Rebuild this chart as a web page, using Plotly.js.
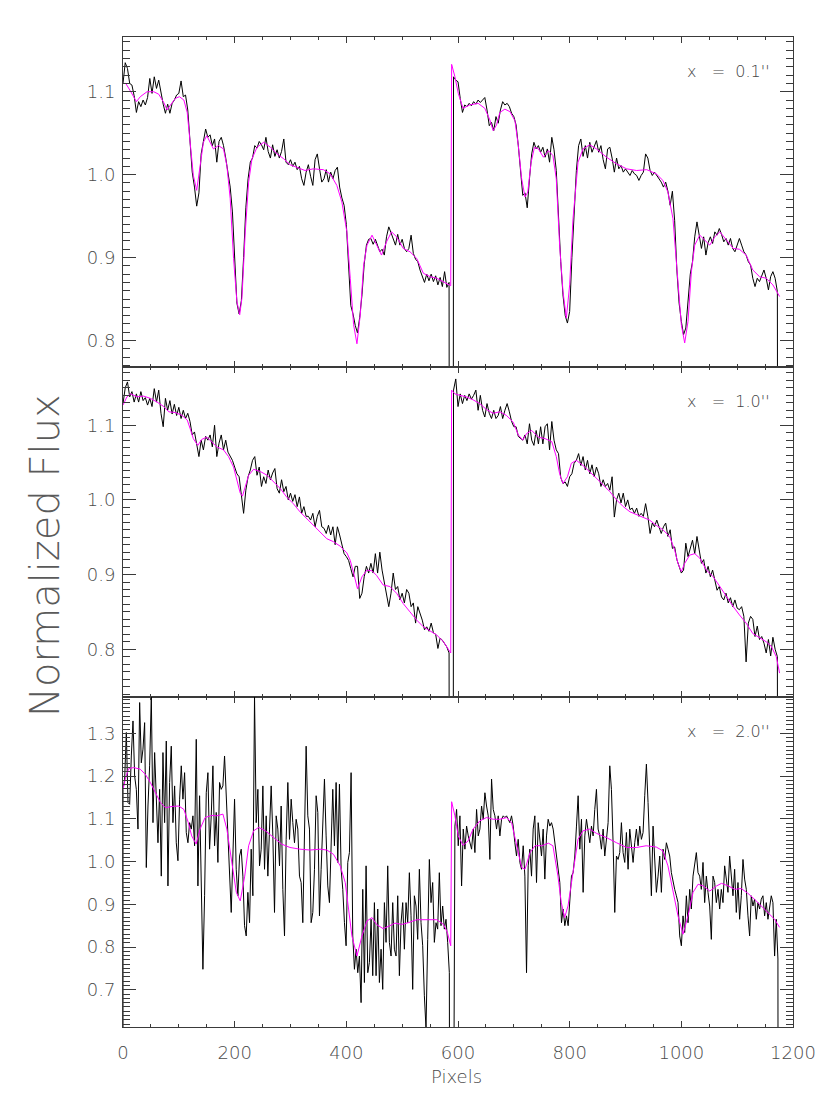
<!DOCTYPE html>
<html><head><meta charset="utf-8">
<script src="https://cdn.plot.ly/plotly-3.0.1.min.js"></script>
<style>html,body{margin:0;padding:0;background:#fff}</style>
</head><body><div id="chart" style="width:830px;height:1106px"></div>
<script>
// ---------- x = 0.1'' panel ----------
const p1BlackA = [1.110,1.135,1.128,1.110,1.108,1.095,1.075,1.088,1.082,1.090,
1.084,1.093,1.116,1.098,1.118,1.104,1.114,1.098,1.085,1.074,
1.085,1.074,1.086,1.090,1.096,1.098,1.113,1.094,1.096,1.078,
1.045,1.003,0.985,0.962,0.978,1.025,1.040,1.055,1.045,1.048,
1.035,1.043,1.015,1.040,1.045,1.035,1.020,1.005,0.985,0.955,
0.890,0.845,0.832,0.848,0.900,0.960,0.995,1.015,1.020,1.035,
1.032,1.040,1.036,1.030,1.045,1.028,1.020,1.036,1.022,1.030,
1.020,1.028,1.043,1.015,1.012,1.018,1.010,1.015,1.006,1.010,
0.995,0.987,1.003,1.012,0.998,0.987,1.018,1.025,1.007,0.991,
0.995,1.006,0.991,1.003,0.995,1.005,1.009,0.985,0.972,0.963,
0.940,0.890,0.842,0.832,0.818,0.809,0.828,0.855,0.892,0.915,
0.922,0.923,0.916,0.922,0.915,0.907,0.910,0.903,0.925,0.937,
0.930,0.923,0.915,0.928,0.915,0.922,0.911,0.907,0.911,0.927,
0.905,0.898,0.895,0.885,0.877,0.870,0.880,0.872,0.880,0.871,
0.878,0.867,0.876,0.865,0.883,0.864,0.870];
const p1BlackB = [1.118,1.114,1.112,1.092,1.075,1.084,1.082,1.086,1.083,1.088,
1.085,1.090,1.087,1.090,1.093,1.078,1.059,1.063,1.053,1.070,
1.062,1.078,1.088,1.084,1.086,1.082,1.074,1.070,1.060,1.035,
1.000,0.975,0.978,0.960,0.995,1.025,1.039,1.031,1.035,1.027,
1.033,1.021,1.031,1.015,1.045,1.030,1.005,0.945,0.895,0.855,
0.830,0.821,0.835,0.900,0.960,1.005,1.035,1.043,1.022,1.035,
1.020,1.039,1.027,1.035,1.041,1.027,1.035,1.018,1.007,1.031,
1.033,1.020,1.003,1.020,1.007,1.011,1.003,1.007,1.003,0.999,
1.005,1.001,0.999,0.993,0.999,1.003,1.025,1.020,1.005,0.999,
1.003,0.999,0.995,0.991,0.985,0.991,0.980,0.963,0.980,0.945,
0.885,0.845,0.823,0.807,0.815,0.845,0.880,0.895,0.925,0.943,
0.925,0.911,0.925,0.903,0.918,0.925,0.917,0.931,0.927,0.935,
0.928,0.919,0.923,0.915,0.923,0.911,0.907,0.915,0.923,0.915,
0.907,0.903,0.895,0.891,0.875,0.865,0.875,0.871,0.879,0.885,
0.875,0.861,0.877,0.883,0.875,0.859];
const p1FitX = [0,5,14,24,31,43,55,64,73,79,85,94,101,109,115,120,126,132,138,144,
150,156,162,171,180,186,192,198,204,209,213,219,225,231,240,252,264,276,288,299,
311,326,341,359,371,383,392,401,407,413,419,425,431,437,446,454,463,472,481,490,
502,514,526,538,550,562,574,587,
588.6,594.5,600.5,609,621,636,648,657,663,669,675,684,693,702,708,714,720,725,731,737,
744,753,762,770,776,782,788,794,800,806,815,824,836,848,866,884,902,920,938,955,
967,976,985,994,1000,1006,1012,1018,1024,1033,1042,1051,1060,1069,1081,1093,1104,1116,1128,1140,
1152,1164,1176];
const p1FitY = [1.110,1.110,1.100,1.088,1.094,1.100,1.100,1.097,1.087,1.078,1.084,1.092,1.094,1.090,1.075,1.043,0.999,0.981,1.011,1.039,
1.047,1.039,1.031,1.035,1.031,1.011,0.971,0.899,0.847,0.831,0.851,0.931,0.991,1.019,1.033,1.039,1.033,1.025,1.019,1.012,
1.009,1.005,1.007,1.006,1.001,0.987,0.967,0.931,0.875,0.819,0.796,0.831,0.891,0.915,0.927,0.915,0.903,0.919,0.931,0.925,
0.911,0.907,0.899,0.881,0.877,0.875,0.871,0.866,
1.133,1.118,1.098,1.080,1.084,1.086,1.080,1.066,1.053,1.060,1.075,1.079,1.076,1.065,1.035,0.995,0.973,0.979,1.015,1.033,
1.031,1.021,1.029,1.023,0.995,0.915,0.859,0.827,0.867,0.947,1.015,1.031,1.036,1.031,1.021,1.013,1.007,1.005,1.006,1.001,
0.993,0.979,0.947,0.867,0.819,0.797,0.823,0.883,0.915,0.927,0.921,0.915,0.925,0.931,0.921,0.911,0.910,0.903,0.885,0.877,
0.875,0.867,0.853];

// ---------- x = 1.0'' panel ----------
const p2BlackA = [1.129,1.150,1.158,1.138,1.145,1.131,1.142,1.131,1.145,1.133,
1.137,1.127,1.136,1.125,1.149,1.131,1.147,1.116,1.098,1.136,
1.120,1.133,1.115,1.128,1.113,1.124,1.109,1.120,1.109,1.116,
1.105,1.087,1.091,1.073,1.058,1.080,1.067,1.085,1.080,1.087,
1.071,1.100,1.058,1.076,1.087,1.067,1.080,1.064,1.058,1.053,
1.044,1.035,1.031,1.009,0.982,1.013,1.031,1.040,1.053,1.058,
1.033,1.044,1.018,1.031,1.022,1.040,1.027,1.036,1.042,1.015,
1.009,1.027,1.011,1.018,1.000,1.009,0.998,1.007,0.991,1.004,
0.982,0.991,0.978,0.978,0.973,0.982,0.964,0.978,0.986,0.964,
0.962,0.955,0.966,0.953,0.964,0.940,0.964,0.953,0.940,0.928,
0.924,0.919,0.908,0.897,0.911,0.911,0.868,0.875,0.897,0.911,
0.902,0.915,0.902,0.928,0.902,0.930,0.906,0.888,0.875,0.857,
0.875,0.902,0.880,0.884,0.866,0.875,0.862,0.880,0.875,0.857,
0.862,0.835,0.857,0.848,0.839,0.826,0.830,0.824,0.835,0.822,
0.820,0.801,0.815,0.812,0.807,0.803,0.795];
const p2BlackB = [1.147,1.162,1.125,1.142,1.129,1.140,1.133,1.142,1.135,1.140,
1.147,1.120,1.140,1.120,1.111,1.129,1.116,1.109,1.120,1.109,
1.113,1.125,1.109,1.120,1.129,1.118,1.105,1.098,1.098,1.085,
1.082,1.080,1.087,1.075,1.102,1.080,1.073,1.093,1.075,1.098,
1.075,1.098,1.102,1.067,1.105,1.080,1.067,1.062,1.030,1.022,
1.024,1.018,1.031,1.035,1.049,1.053,1.062,1.046,1.058,1.040,
1.053,1.035,1.047,1.031,1.044,1.035,1.018,1.027,1.018,1.022,
1.013,1.031,0.977,1.000,1.009,0.996,1.009,0.991,1.000,0.987,
0.989,0.982,0.989,0.978,0.982,0.978,0.995,0.978,0.955,0.969,
0.964,0.973,0.964,0.955,0.964,0.969,0.951,0.960,0.935,0.937,
0.920,0.911,0.902,0.906,0.942,0.924,0.937,0.946,0.928,0.951,
0.933,0.915,0.920,0.902,0.911,0.897,0.906,0.893,0.879,0.884,
0.870,0.866,0.875,0.862,0.869,0.857,0.866,0.855,0.853,0.857,
0.844,0.783,0.835,0.844,0.840,0.817,0.831,0.813,0.817,0.808,
0.795,0.813,0.791,0.816,0.800,0.790];
const p2FitX = [0,7,14,25,37,49,61,73,82,94,106,115,120,126,134,141,150,159,168,180,
189,198,204,210,214,219,225,234,246,258,270,282,293,305,317,329,341,353,365,377,
389,401,407,413,420,428,437,446,454,466,478,490,502,514,526,538,550,562,574,587,
588.6,594.5,603.5,615,627,639,651,663,675,687,699,708,716,723,732,744,756,768,776,782,
788,796,803,812,824,836,848,860,872,884,896,908,920,932,943,955,967,979,988,994,
1000,1006,1015,1024,1033,1045,1057,1069,1081,1093,1104,1116,1128,1140,1152,1161,1170,1176];
const p2FitY = [1.127,1.138,1.142,1.138,1.139,1.136,1.131,1.125,1.118,1.117,1.113,1.107,1.096,1.082,1.073,1.081,1.084,1.078,1.071,1.067,
1.058,1.044,1.026,1.009,1.005,1.018,1.033,1.041,1.038,1.033,1.024,1.015,1.004,0.995,0.984,0.975,0.966,0.957,0.948,0.944,
0.938,0.929,0.919,0.902,0.881,0.897,0.906,0.905,0.899,0.886,0.884,0.875,0.861,0.850,0.839,0.830,0.824,0.819,0.810,0.795,
1.147,1.142,1.140,1.138,1.134,1.129,1.121,1.116,1.118,1.113,1.104,1.087,1.080,1.089,1.093,1.084,1.082,1.078,1.058,1.035,
1.022,1.031,1.049,1.053,1.046,1.038,1.029,1.020,1.011,1.000,0.991,0.984,0.980,0.977,0.973,0.966,0.960,0.951,0.933,0.915,
0.904,0.915,0.926,0.928,0.922,0.906,0.897,0.884,0.870,0.857,0.846,0.835,0.821,0.815,0.810,0.804,0.790,0.768];

// ---------- x = 2.0'' panel ----------
const p3BlackA = [1.169,1.193,1.302,1.138,1.134,1.247,1.329,1.200,1.169,1.076,
1.372,1.231,1.263,1.325,0.986,1.130,1.224,1.387,1.091,1.255,
1.130,1.044,1.169,0.966,1.255,1.091,1.282,0.943,1.185,1.270,
1.091,1.177,1.044,1.002,1.146,1.224,1.146,1.208,1.068,1.044,
1.091,1.076,1.107,1.037,1.286,0.943,1.154,0.982,0.748,0.920,
1.161,1.208,1.029,1.107,1.224,1.037,1.115,0.998,1.185,1.169,
1.177,1.247,1.146,1.060,0.966,0.881,1.013,1.146,0.982,0.920,
1.013,1.029,0.966,0.850,0.826,0.928,0.857,1.029,0.920,1.387,
1.091,1.169,0.990,1.029,1.177,0.982,1.107,0.966,1.076,1.177,
1.060,0.881,1.107,1.076,0.990,1.130,0.935,0.826,1.052,1.185,
1.052,1.146,1.091,1.044,1.099,1.076,0.966,0.951,0.857,1.091,
1.270,1.107,1.076,0.857,0.881,0.982,1.154,1.115,0.873,0.982,
1.076,1.193,1.060,0.943,0.904,1.013,1.169,1.037,1.185,0.998,
1.181,0.982,0.935,0.857,0.803,0.998,1.021,1.208,0.826,0.748,
0.795,0.740,0.779,0.670,0.935,0.717,0.990,0.740,0.764,0.865,
0.733,0.904,0.733,0.889,0.717,0.795,0.701,0.904,0.811,0.990,
0.811,0.779,0.904,0.795,0.779,0.920,0.733,0.857,0.904,0.795,
0.904,0.857,0.974,0.873,0.701,0.920,0.896,0.818,0.982,0.857,
0.803,0.686,0.610,0.818,1.005,0.904,0.951,0.811,0.857,0.842,
0.974,0.850,0.896,0.842,0.865,0.811,0.740];
const p3BlackB = [1.083,1.122,1.037,1.107,0.943,1.076,1.029,1.083,1.060,1.044,
1.029,1.076,1.021,1.122,1.060,1.076,1.130,1.099,1.161,1.130,
1.107,1.005,1.193,1.122,1.107,1.076,1.107,1.060,1.099,1.107,
1.103,1.107,1.099,1.091,1.107,1.083,1.044,1.013,1.052,0.998,
0.982,1.037,0.966,0.740,0.990,1.029,0.966,1.076,1.107,0.951,
1.091,1.052,1.013,1.076,0.959,1.060,1.099,1.083,1.091,1.076,
1.044,1.013,0.974,0.951,0.857,0.889,0.850,0.873,0.850,0.920,
0.966,0.974,1.013,1.083,1.154,1.029,1.099,0.928,1.060,1.099,
1.076,1.044,1.083,1.060,1.122,1.169,1.076,1.060,1.029,1.076,
1.013,1.052,1.091,1.224,1.169,1.044,0.881,1.013,1.005,1.021,
1.091,1.021,0.998,1.068,0.982,1.076,1.029,0.998,1.044,1.076,
1.037,1.083,1.052,1.068,1.154,1.228,1.138,1.005,0.920,1.083,
1.013,0.928,0.966,1.013,0.928,1.029,1.005,1.044,1.029,1.013,
0.974,0.951,0.935,0.920,0.904,0.826,0.803,0.873,0.834,0.920,
0.857,0.935,0.889,0.966,0.990,1.021,0.974,0.966,0.935,0.998,
0.904,0.966,0.928,0.896,0.818,0.966,0.951,0.904,0.935,0.889,
0.935,0.904,0.990,0.951,0.928,1.013,0.966,0.920,0.982,0.881,
0.951,0.865,0.920,1.005,0.959,0.935,0.873,0.826,0.920,0.896,
0.912,0.865,0.904,0.889,0.912,0.920,0.873,0.904,0.865,0.896,
0.920,0.904,0.779,0.865,0.772];
const p3FitX = [0,4,10,19,31,40,49,58,67,76,88,100,109,117,123,131,138,147,159,168,
179,186,195,203,210,218,225,234,243,255,270,284,299,317,335,353,365,377,389,398,
404,410,419,428,437,446,454,466,478,487,499,511,526,538,550,562,574,581,587,
588.6,594.5,600.5,609,618,627,639,651,663,675,687,696,705,714,720,729,738,750,762,770,
779,785,791,797,805,815,824,836,848,866,884,902,920,937,955,967,976,985,994,1003,
1012,1021,1030,1039,1051,1063,1072,1084,1096,1107,1119,1131,1143,1155,1167,1176];
const p3FitY = [1.169,1.193,1.217,1.220,1.216,1.204,1.185,1.161,1.138,1.126,1.129,1.130,1.122,1.091,1.060,1.041,1.076,1.103,1.108,1.107,
1.111,1.076,0.998,0.928,0.908,0.966,1.037,1.072,1.080,1.072,1.056,1.041,1.033,1.029,1.027,1.029,1.027,1.017,0.990,0.951,
0.889,0.826,0.779,0.826,0.861,0.869,0.853,0.843,0.850,0.856,0.853,0.857,0.864,0.864,0.864,0.864,0.853,0.834,0.803,
1.140,1.107,1.060,1.038,1.048,1.076,1.095,1.103,1.099,1.099,1.103,1.091,1.037,0.986,0.982,1.021,1.037,1.037,1.043,1.037,
0.966,0.904,0.869,0.896,0.966,1.052,1.072,1.076,1.066,1.056,1.044,1.033,1.033,1.037,1.034,1.025,0.990,0.935,0.873,0.830,
0.873,0.928,0.947,0.943,0.931,0.943,0.949,0.943,0.935,0.937,0.926,0.912,0.896,0.881,0.865,0.846];

// pixel sampling of the spectra and the detector gap / edge (flux drops to zero)
const samplingP12 = {startA: 0, startB: 592, step: 4};
const samplingP3 = {startA: 0, startB: 594.5, step: 2.982};
const gapX = [585.5, 591];
const gapY = [0, 0];
const endX = [1173.5];
const endY = [0];
const p3LeadX = [0];
const p3LeadY = [0];

const panelLabels = ["x = 0.1''", "x = 1.0''", "x = 2.0''"];
const yRanges = [[0.768, 1.166], [0.736, 1.178], [0.613, 1.385]];
const xTicks = [0, 200, 400, 600, 800, 1000, 1200];

function grid(start, step, n) { const a = []; for (let i = 0; i < n; i++) a.push(+(start + i * step).toFixed(3)); return a; }
function spectrum(A, B, s, leadX, leadY) {
  const x = [].concat(leadX || [], grid(s.startA, s.step, A.length), gapX, grid(s.startB, s.step, B.length), endX);
  const y = [].concat(leadY || [], A, gapY, B, endY);
  return {x, y};
}
const s1 = spectrum(p1BlackA, p1BlackB, samplingP12);
const s2 = spectrum(p2BlackA, p2BlackB, samplingP12);
const s3 = spectrum(p3BlackA, p3BlackB, samplingP3, p3LeadX, p3LeadY);

const black = {color: '#000000', width: 1};
const mag = {color: '#ff00ff', width: 1};
const traces = [
  {x: s1.x, y: s1.y, xaxis: 'x', yaxis: 'y', mode: 'lines', line: black, hoverinfo: 'skip'},
  {x: p1FitX, y: p1FitY, xaxis: 'x', yaxis: 'y', mode: 'lines', line: mag, hoverinfo: 'skip'},
  {x: s2.x, y: s2.y, xaxis: 'x2', yaxis: 'y2', mode: 'lines', line: black, hoverinfo: 'skip'},
  {x: p2FitX, y: p2FitY, xaxis: 'x2', yaxis: 'y2', mode: 'lines', line: mag, hoverinfo: 'skip'},
  {x: s3.x, y: s3.y, xaxis: 'x3', yaxis: 'y3', mode: 'lines', line: black, hoverinfo: 'skip'},
  {x: p3FitX, y: p3FitY, xaxis: 'x3', yaxis: 'y3', mode: 'lines', line: mag, hoverinfo: 'skip'}
];

const AX = '#3a3a3a';
const FAM = 'DejaVu Sans, Liberation Sans, sans-serif';
const tickFont = {family: FAM, size: 18, color: '#4a4a4a', weight: 200};
function xAx(anchor, labels) {
  return {domain: [0, 1], anchor: anchor, range: [0, 1200], tickvals: xTicks, ticktext: xTicks.map(String),
    showline: true, linecolor: AX, linewidth: 1, mirror: 'ticks', ticks: 'inside', ticklen: 6, tickcolor: AX,
    minor: {dtick: 50, tick0: 0, ticks: 'inside', ticklen: 3, tickcolor: AX, showgrid: false},
    showgrid: false, zeroline: false, showticklabels: labels, tickfont: tickFont, ticklabelstandoff: 9, fixedrange: true};
}
function yAx(anchor, dom, rng) {
  return {domain: dom, anchor: anchor, range: rng, dtick: 0.1, tick0: 0, tickformat: '.1f',
    showline: true, linecolor: AX, linewidth: 1, mirror: 'ticks', ticks: 'inside', ticklen: 13, tickcolor: AX,
    minor: {dtick: 0.01, tick0: 0, ticks: 'inside', ticklen: 7, tickcolor: AX, showgrid: false},
    showgrid: false, zeroline: false, tickfont: tickFont, ticklabelstandoff: 3, fixedrange: true};
}
const annFont = {family: FAM, size: 16, color: '#444444', weight: 200};
const nb = '\u00a0';
const annotations = panelLabels.map((t, i) => ({
  text: t.replace(' = ', nb + nb + nb + '=' + nb + nb), xref: ['x', 'x2', 'x3'][i], yref: ['y domain', 'y2 domain', 'y3 domain'][i],
  x: 1162, y: 0.894, xanchor: 'right', yanchor: 'middle', showarrow: false, font: annFont
}));
annotations.push({text: 'Normalized Flux', xref: 'paper', yref: 'paper', x: -0.1164, y: 0.4758, textangle: -90,
  xanchor: 'center', yanchor: 'middle', showarrow: false, font: {family: FAM, size: 40, color: '#5a5a5a', weight: 200}});
annotations.push({text: 'Pixels', xref: 'paper', yref: 'paper', x: 0.498, y: -0.0505,
  xanchor: 'center', yanchor: 'middle', showarrow: false, font: {family: FAM, size: 18, color: '#4a4a4a', weight: 200}});

const layout = {
  width: 830, height: 1106, margin: {l: 123, r: 37, t: 37, b: 79},
  paper_bgcolor: '#ffffff', plot_bgcolor: '#ffffff', showlegend: false,
  xaxis: xAx('y', false), xaxis2: xAx('y2', false), xaxis3: xAx('y3', true),
  yaxis: yAx('x', [2/3, 1], yRanges[0]), yaxis2: yAx('x2', [1/3, 2/3], yRanges[1]), yaxis3: yAx('x3', [0, 1/3], yRanges[2]),
  annotations: annotations
};
Plotly.newPlot('chart', traces, layout, {staticPlot: true, displayModeBar: false});
</script></body></html>
